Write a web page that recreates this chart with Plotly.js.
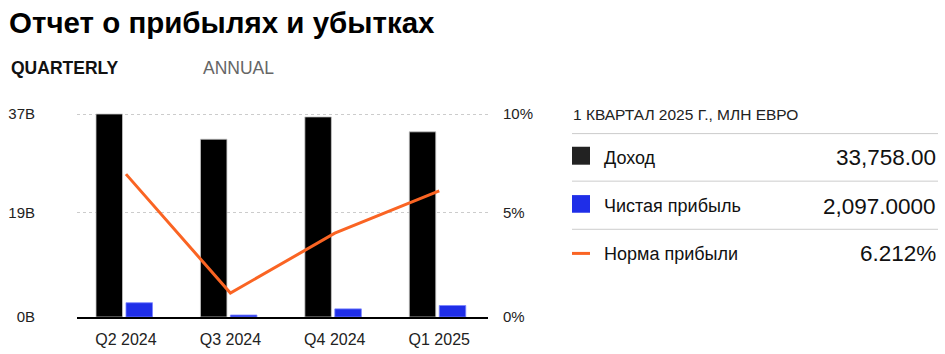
<!DOCTYPE html>
<html><head><meta charset="utf-8">
<script src="https://cdn.plot.ly/plotly-3.0.1.min.js"></script>
<style>html,body{margin:0;padding:0;background:#fff;}#chart{width:945px;height:354px;}</style>
</head><body><div id="chart"></div>
<script>
// Data (millions EUR)
const quarters = ["Q2 2024", "Q3 2024", "Q4 2024", "Q1 2025"];
const revenue = [37010, 32420, 36480, 33758];
const netIncome = [2600, 360, 1480, 2097];
const profitMargin = [7.04, 1.18, 4.13, 6.212];
const leftTickVals = [0, 19000, 37000];
const leftTickText = ["0B", "19B", "37B"];
const rightTickText = ["0%", "5%", "10%"];
const seriesNames = ["Доход", "Чистая прибыль", "Норма прибыли"];
const periodLabel = "1 КВАРТАЛ 2025 Г., МЛН ЕВРО";

const W = 945, H = 354;
const scaleMax = 37000, pctMax = 10;        // values that sit on the top gridline
const headroom = 1.02;                       // so the top gridline is drawn inside the plot
const L = 77, R = 488, B = 317.3;
const T = B - 203.6 * headroom;
const colors = {rev: "#000000", net: "#1f2ee8", margin: "#fa6423"};
const FONT = "Liberation Sans, Arial, sans-serif";

const idx = quarters.map((q, i) => i);
const traces = [
  {type: "bar", x: idx, y: revenue, name: seriesNames[0], width: 0.254, offset: -0.287,
   marker: {color: colors.rev, line: {color: "rgba(200,200,200,0.8)", width: 1}}, hoverinfo: "none"},
  {type: "bar", x: idx, y: netIncome, name: seriesNames[1], width: 0.254, offset: 0.0,
   marker: {color: colors.net, line: {color: "rgba(120,130,255,0.8)", width: 1}}, hoverinfo: "none"},
  {type: "scatter", mode: "lines", x: idx, y: profitMargin, yaxis: "y2", name: seriesNames[2],
   line: {color: colors.margin, width: 3}, hoverinfo: "none"}
];

const fmt = (v, d) => v.toLocaleString("en-US", {minimumFractionDigits: d, maximumFractionDigits: d});
const last = quarters.length - 1;
const valueTexts = [fmt(revenue[last], 2), fmt(netIncome[last], 4), fmt(profitMargin[last], 3) + "%"];

// pixel -> paper (plot-area) fractions
const px = x => (x - L) / (R - L), py = y => (B - y) / (B - T);
const annotations = [
  {text: "<b>Отчет о прибылях и убытках</b>", x: px(7), y: py(21.5), xanchor: "left", yanchor: "middle",
   font: {family: FONT, size: 29.5, color: "#000"}},
  {text: "<b>QUARTERLY</b>", x: px(9), y: py(67), xanchor: "left", yanchor: "middle",
   font: {family: FONT, size: 17.5, color: "#111"}},
  {text: "ANNUAL", x: px(201), y: py(67), xanchor: "left", yanchor: "middle",
   font: {family: FONT, size: 17.5, color: "#666"}},
  {text: periodLabel, x: px(571), y: py(114), xanchor: "left", yanchor: "middle",
   font: {family: FONT, size: 15.5, color: "#222"}}
];
const rowY = [157.5, 206, 254];
const shapes = [];
[133.3, 181, 229.3].forEach(y => shapes.push({type: "line", xref: "paper", yref: "paper",
  x0: px(572), x1: px(938), y0: py(y), y1: py(y), line: {color: "#cccccc", width: 1}}));
shapes.push({type: "rect", xref: "paper", yref: "paper", x0: px(572), x1: px(590), y0: py(164.5), y1: py(146.5),
  fillcolor: "#222", line: {width: 0}});
shapes.push({type: "rect", xref: "paper", yref: "paper", x0: px(572), x1: px(590), y0: py(212.7), y1: py(195),
  fillcolor: colors.net, line: {width: 0}});
shapes.push({type: "line", xref: "paper", yref: "paper", x0: px(572), x1: px(590), y0: py(253.5), y1: py(253.5),
  line: {color: colors.margin, width: 3}});
seriesNames.forEach((n, i) => {
  annotations.push({text: n, x: px(602), y: py(rowY[i]), xanchor: "left", yanchor: "middle",
    font: {family: FONT, size: 18, color: "#111"}});
  annotations.push({text: valueTexts[i], x: px(938), y: py(rowY[i]), xanchor: "right", yanchor: "middle",
    font: {family: FONT, size: 22.5, color: "#111"}});
});
annotations.forEach(a => { a.xref = "paper"; a.yref = "paper"; a.showarrow = false; });

const layout = {
  width: W, height: H,
  margin: {l: L, r: W - R, t: T, b: H - B, pad: 0},
  paper_bgcolor: "#fff", plot_bgcolor: "#fff",
  showlegend: false, barmode: "overlay",
  font: {family: FONT, color: "#222"},
  xaxis: {range: [-0.469, 3.467], tickvals: idx, ticktext: quarters, showgrid: false, zeroline: false,
    showline: true, linecolor: "#000", linewidth: 1.5, ticks: "", tickfont: {size: 16, color: "#222"},
    ticklabelstandoff: 7, fixedrange: true},
  yaxis: {range: [0, scaleMax * headroom], tickvals: leftTickVals, ticktext: leftTickText, showgrid: true,
    gridcolor: "#cccccc", griddash: "dot", gridwidth: 1, zeroline: false, showline: false, ticks: "",
    tickfont: {size: 15, color: "#222"}, ticklabelstandoff: 41, fixedrange: true},
  yaxis2: {range: [0, pctMax * headroom], overlaying: "y", side: "right",
    tickvals: leftTickVals.map(v => v / scaleMax * pctMax), ticktext: rightTickText,
    showgrid: false, zeroline: false, showline: false, ticks: "", tickfont: {size: 15, color: "#222"},
    ticklabelstandoff: 14, fixedrange: true},
  annotations: annotations, shapes: shapes
};
Plotly.newPlot("chart", traces, layout, {displayModeBar: false, staticPlot: true});
</script></body></html>
